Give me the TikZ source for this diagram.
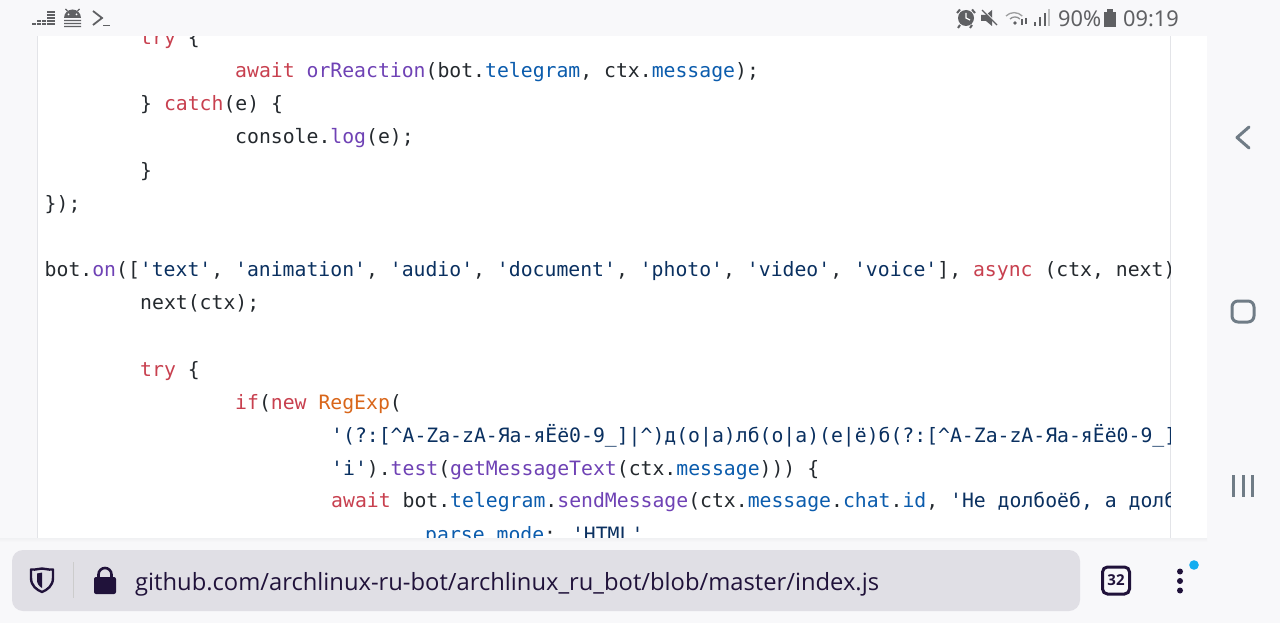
\documentclass[tikz,border=0pt]{standalone}
\usepackage{fontspec}
\setmainfont{Open Sans}
\newfontfamily\codefont{DejaVu Sans Mono}
\newfontfamily\uifont{Open Sans}
\newfontfamily\statusfont{Noto Sans}
\definecolor{kwred}{HTML}{C8404F}
\definecolor{fnpur}{HTML}{6F42B5}
\definecolor{propbl}{HTML}{0B5CAD}
\definecolor{strnv}{HTML}{0A3060}
\definecolor{orng}{HTML}{D9661A}
\definecolor{txt}{HTML}{24292E}
\definecolor{pagebg}{HTML}{F8F8FA}
\definecolor{edge}{HTML}{E3E4E8}
\definecolor{urlbg}{HTML}{E0DFE5}
\definecolor{ink}{HTML}{20123A}
\definecolor{stat}{HTML}{5F6063}
\definecolor{navg}{HTML}{707C86}
\definecolor{dotbl}{HTML}{14ADF0}
\newcommand{\cR}[1]{\textcolor{kwred}{#1}}
\newcommand{\cP}[1]{\textcolor{fnpur}{#1}}
\newcommand{\cB}[1]{\textcolor{propbl}{#1}}
\newcommand{\cS}[1]{\textcolor{strnv}{#1}}
\newcommand{\cO}[1]{\textcolor{orng}{#1}}
\tikzset{
  code/.style={anchor=base west,inner sep=0pt,text=txt,font=\codefont\fontsize{19.77}{20}\selectfont},
  ui/.style={anchor=base west,inner sep=0pt,text=ink},
  stattxt/.style={anchor=base west,inner sep=0pt,text=stat,font=\statusfont\fontsize{21.8}{24}\selectfont},
  iconl/.style={draw=stat,line width=1.6pt,fill=none},
  nav/.style={draw=navg,line width=3pt,fill=none,line cap=round,line join=round},
  x=1pt,y=-1pt
}
\begin{document}
\begin{tikzpicture}
\useasboundingbox (0,0) rectangle (1280,623);
\fill[pagebg] (0,0) rectangle (1280,623);
\fill[white] (37,30) rectangle (1207,545);
\draw[edge,line width=1.2pt] (37.5,30) -- (37.5,545);
\draw[edge,line width=1.2pt] (1170.5,30) -- (1170.5,545);
\begin{scope}
\clip (38,36) rectangle (1170,541);
\node[code] (l0) at (140,45) {\cR{try} \{};
\node[code] (l1) at (235,78) {\cR{await} \cP{orReaction}(bot.\cB{telegram}, ctx.\cB{message});};
\node[code] (l2) at (140,111) {\} \cR{catch}(e) \{};
\node[code] (l3) at (235,143) {console.\cP{log}(e);};
\node[code] (l4) at (140,178) {\}};
\node[code] (l5) at (44.5,210) {\});};
\node[code] (l7) at (44.5,276) {bot.\cP{on}([\cS{'text'}, \cS{'animation'}, \cS{'audio'}, \cS{'document'}, \cS{'photo'}, \cS{'video'}, \cS{'voice'}], \cR{async} (ctx, next)};
\node[code] (l8) at (140,309) {next(ctx);};
\node[code] (l10) at (140,376) {\cR{try} \{};
\node[code] (l11) at (235,409) {\cR{if}(\cR{new} \cO{RegExp}(};
\node[code] (l12) at (331,442.5) {\cS{'(?:[\textasciicircum A-Za-zА-Яа-яЁё0-9\_]|\textasciicircum)д(о|а)лб(о|а)(е|ё)б(?:[\textasciicircum A-Za-zА-Яа-яЁё0-9\_]}};
\node[code] (l13) at (331,475) {\cS{'i'}).\cP{test}(\cP{getMessageText}(ctx.\cB{message}))) \{};
\node[code] (l14) at (331,507) {\cR{await} bot.\cB{telegram}.\cP{sendMessage}(ctx.\cB{message}.\cB{chat}.\cB{id}, \cS{'Не долбоёб, а долб}};
\node[code] (l15) at (425,541) {\cB{parse\_mode}: \cS{'HTML'}};
\end{scope}
% status bar
\fill[pagebg] (0,0) rectangle (1280,36.5);
\fill[pagebg] (1207,0) rectangle (1280,623);
% bottom bar
\shade[top color=edge!50,bottom color=pagebg] (0,538.5) rectangle (1207,542);
\fill[pagebg] (0,542) rectangle (1280,623);
\fill[urlbg,rounded corners=11pt] (12,550) rectangle (1080,611);
% left status icons
\foreach \xa/\yt in {34/23,39/20,44/20,49/12,53/12}{
  \foreach \yy in {23,20,17,14,11}{
    \pgfmathparse{\yy>=\yt-1?1:0}
    \ifnum\pgfmathresult=1 \fill[stat] (\xa-1.7,\yy) rectangle (\xa+1.7,\yy+2);\fi
  }
}
\fill[stat] (64,18) arc[start angle=180,end angle=360,radius=8.5] -- cycle;
\fill[white] (68.5,14.5) circle[radius=1] (76.5,14.5) circle[radius=1];
\draw[stat,line width=1.4pt] (64,20.5) -- (81,20.5) (64,23.5) -- (81,23.5) (64,26.5) -- (81,26.5) (67.5,11) -- (65.5,9) (77.5,11) -- (79.5,9);
\draw[stat,line width=1.8pt] (93,11) -- (102,18) -- (93,25);
\draw[stat,line width=1.4pt] (103,25.5) -- (110,25.5);
% right status icons
\fill[stat] (966,18) circle[radius=8];
\draw[white,line width=1.2pt] (966,13) -- (966,18) -- (970,20);
\draw[stat,line width=2pt] (957,13) -- (960,9.5) (975,13) -- (972,9.5) (960,25) -- (958,28) (972,25) -- (970,28);
\fill[stat] (981,15) -- (986,15) -- (992,10) -- (992,26) -- (986,21) -- (981,21) -- cycle;
\draw[pagebg,line width=1.6pt] (982,9) -- (998,25);
\draw[stat,line width=1.3pt] (982,10) -- (997,25);
\draw[stat!60,line width=1.3pt] (1006,16) arc[start angle=225,end angle=315,radius=11.5];
\draw[stat!70,line width=1.3pt] (1010,19) arc[start angle=225,end angle=315,radius=7];
\fill[stat] (1015,23) circle[radius=1.8];
\draw[stat,line width=1.1pt] (1022,19) -- (1022,25) (1026,18) -- (1026,24);
\foreach \xa/\yt/\cc in {1035/22/stat,1040/17/stat,1045/13/stat,1049/9/stat!40}{\fill[\cc] (\xa-1,\yt) rectangle (\xa+1,26);}
\node[stattxt] (pct) at (1058,27) {90\%};
\fill[stat] (1104,12) rectangle (1116,27);
\fill[stat] (1107,9.5) rectangle (1113,12);
\node[stattxt] (clock) at (1123,27) {09:19};
% nav buttons
\draw[nav] (1249,127) -- (1237,137.5) -- (1249,148);
\draw[nav,rounded corners=6pt] (1232,301) rectangle (1254,322);
\draw[nav,line cap=butt] (1233.5,475) -- (1233.5,497) (1243,475) -- (1243,497) (1252,475) -- (1252,497);
% url bar
\draw[ink,line width=2.4pt,line join=round,fill=none] (31,569.5) .. controls (37,570) and (38,568.5) .. (42,568.5) .. controls (46,568.5) and (47,570) .. (53,569.5) -- (53,578) .. controls (53,586) and (47,590) .. (42,592) .. controls (37,590) and (31,586) .. (31,578) -- cycle;
\fill[ink] (42,572.5) -- (37,573.5) -- (37,580) .. controls (37,584) and (39,586) .. (42,588) -- cycle;
\draw[black!20,line width=1pt] (73,562) -- (73,598);
\fill[ink,rounded corners=2pt] (94,577) rectangle (116,594);
\draw[ink,line width=2.6pt] (98.5,578) -- (98.5,574.5) arc[start angle=180,end angle=360,radius=6.5] -- (111.5,578);
\node[ui,font=\uifont\fontsize{23.75}{26}\selectfont] (url) at (135,590) {github.com/archlinux-ru-bot/archlinux\_ru\_bot/blob/master/index.js};
% tab counter and menu
\draw[ink,line width=3pt,rounded corners=5pt] (1102.5,567) rectangle (1129.5,594);
\node[anchor=center,inner sep=0pt,text=ink,font=\uifont\bfseries\fontsize{15}{16}\selectfont] (tabs) at (1116,580.5) {32};
\foreach \yy in {571.5,581,590.5}{\fill[ink] (1180,\yy) circle[radius=3];}
\fill[dotbl] (1194,565) circle[radius=4.8];
\end{tikzpicture}
\end{document}
